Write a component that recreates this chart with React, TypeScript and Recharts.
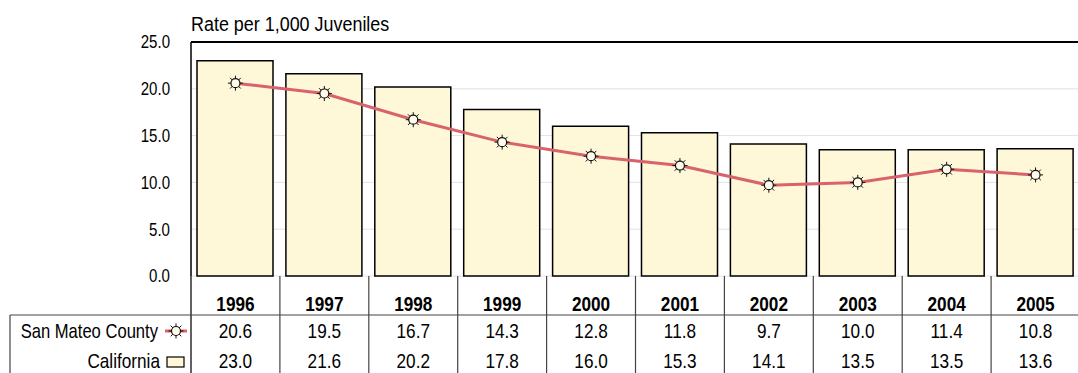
import React from 'react';
import { ComposedChart, Bar, Line, XAxis, YAxis, CartesianGrid, ReferenceLine } from 'recharts';

const years = ['1996', '1997', '1998', '1999', '2000', '2001', '2002', '2003', '2004', '2005'];
const sanMateo = [20.6, 19.5, 16.7, 14.3, 12.8, 11.8, 9.7, 10.0, 11.4, 10.8];
const california = [23.0, 21.6, 20.2, 17.8, 16.0, 15.3, 14.1, 13.5, 13.5, 13.6];
const yTicks = [0, 5, 10, 15, 20, 25];

const FONT = '"Liberation Sans", Arial, sans-serif';
const LINE_COLOR = '#d8636c';
const BAR_FILL = '#fef8d8';
const TABLE_LINE = '#444';

const CHART_W = 1100;
const CHART_H = 373;
const PLOT_LEFT = 191;
const PLOT_RIGHT = 1080;
const PLOT_BOTTOM = 276;
const BAND = (PLOT_RIGHT - PLOT_LEFT) / years.length;

const data = years.map((year, i) => ({ year, smc: sanMateo[i], ca: california[i] }));

// condensed text (no narrow font installed, so squeeze horizontally)
const T = ({ x, y, anchor = 'start', size = 20, bold = false, sx = 0.86, children, dy }: any) => (
  <text
    transform={`translate(${x},${y}) scale(${sx},1)`}
    x={0}
    y={0}
    dy={dy}
    textAnchor={anchor}
    fontFamily={FONT}
    fontSize={size}
    fontWeight={bold ? 'bold' : 'normal'}
    fill="#000"
  >
    {children}
  </text>
);

// sun-like marker: small circle with 8 spikes
const StarMarker = ({ cx, cy }: any) => {
  if (cx == null || cy == null) return null;
  const spikes = [];
  for (let k = 0; k < 8; k++) {
    const a = (k * Math.PI) / 4;
    spikes.push(
      <line
        key={k}
        x1={cx + 4.5 * Math.cos(a)}
        y1={cy + 4.5 * Math.sin(a)}
        x2={cx + 7.5 * Math.cos(a)}
        y2={cy + 7.5 * Math.sin(a)}
        stroke="#111"
        strokeWidth={1}
      />
    );
  }
  return (
    <g>
      <circle cx={cx} cy={cy} r={4.5} fill="#fffbea" stroke="#111" strokeWidth={1.2} />
      {spikes}
    </g>
  );
};

const YTick = ({ x, y, payload }: any) => (
  <T x={x} y={y} anchor="end" size={17.5} dy="0.36em">
    {Number(payload.value).toFixed(1)}
  </T>
);

// data table under each category, drawn from the x axis ticks
const TableTick = ({ x, y, payload }: any) => {
  const i = payload.index;
  const left = x - BAND / 2;
  return (
    <g>
      <line x1={left} y1={y} x2={left} y2={CHART_H} stroke={TABLE_LINE} strokeWidth={1.2} />
      <T x={x} y={y + 35} anchor="middle" bold>{years[i]}</T>
      <T x={x} y={y + 62} anchor="middle">{sanMateo[i].toFixed(1)}</T>
      <T x={x} y={y + 92} anchor="middle">{california[i].toFixed(1)}</T>
    </g>
  );
};

export default function App() {
  return (
    <div style={{ position: 'absolute', left: 0, top: 0, width: 1078, height: 373, overflow: 'hidden', background: '#fff' }}>
      <ComposedChart
        width={CHART_W}
        height={CHART_H}
        data={data}
        margin={{ top: 42, right: CHART_W - PLOT_RIGHT, bottom: 0, left: 0 }}
      >
        <CartesianGrid vertical={false} stroke="#e2e2e2" />
        <XAxis
          dataKey="year"
          height={CHART_H - PLOT_BOTTOM}
          axisLine={false}
          tickLine={false}
          tickSize={0}
          tickMargin={0}
          interval={0}
          tick={<TableTick />}
        />
        <YAxis
          width={PLOT_LEFT}
          domain={[0, 25]}
          ticks={yTicks}
          tickLine={false}
          tickSize={0}
          tickMargin={21}
          axisLine={{ stroke: '#000', strokeWidth: 1.5 }}
          tick={<YTick />}
        />
        <ReferenceLine y={25} stroke="#000" strokeWidth={2} />
        <Bar dataKey="ca" fill={BAR_FILL} stroke="#000" strokeWidth={1.5} barSize={76} isAnimationActive={false} />
        <Line
          dataKey="smc"
          stroke={LINE_COLOR}
          strokeWidth={3}
          dot={<StarMarker />}
          activeDot={false}
          isAnimationActive={false}
        />
      </ComposedChart>
      <svg width={1078} height={373} style={{ position: 'absolute', left: 0, top: 0, pointerEvents: 'none' }}>
        <T x={191} y={31} size={19.5} sx={0.92}>Rate per 1,000 Juveniles</T>
        <line x1={10} y1={315} x2={1078} y2={315} stroke={TABLE_LINE} strokeWidth={1.2} />
        <line x1={10} y1={315} x2={10} y2={373} stroke={TABLE_LINE} strokeWidth={1.2} />
        <line x1={PLOT_LEFT} y1={PLOT_BOTTOM} x2={PLOT_LEFT} y2={373} stroke={TABLE_LINE} strokeWidth={1.2} />
        <T x={158} y={338} anchor="end" sx={0.83}>San Mateo County</T>
        <line x1={165} y1={331} x2={187} y2={331} stroke={LINE_COLOR} strokeWidth={3} />
        <StarMarker cx={176} cy={331} />
        <T x={160} y={368} anchor="end">California</T>
        <rect x={167} y={357} width={17} height={10} fill={BAR_FILL} stroke="#000" strokeWidth={1.2} />
      </svg>
    </div>
  );
}
